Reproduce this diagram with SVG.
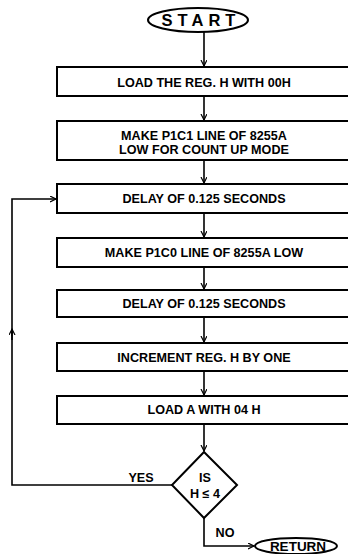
<svg xmlns="http://www.w3.org/2000/svg" width="348" height="554" viewBox="0 0 348 554">
<defs>
<style>
.box{fill:#fff;stroke:#000;stroke-width:2}
.t{font-family:"Liberation Sans",Arial,sans-serif;font-weight:bold;font-size:12.6px;fill:#000;text-anchor:middle}
.c{fill:none;stroke:#000;stroke-width:1.6}
</style>
<marker id="ah" markerWidth="8" markerHeight="8" refX="6" refY="3" orient="auto" markerUnits="userSpaceOnUse">
<path d="M0,0 L6,3 L0,6" fill="none" stroke="#000" stroke-width="1.2"/>
</marker>
</defs>
<g id="connectors">
<line class="c" x1="204" y1="32" x2="204" y2="66" marker-end="url(#ah)"/>
<line class="c" x1="204" y1="96" x2="204" y2="120" marker-end="url(#ah)"/>
<line class="c" x1="204" y1="160" x2="204" y2="183" marker-end="url(#ah)"/>
<line class="c" x1="204" y1="213" x2="204" y2="237" marker-end="url(#ah)"/>
<line class="c" x1="204" y1="267" x2="204" y2="289" marker-end="url(#ah)"/>
<line class="c" x1="204" y1="317" x2="204" y2="342" marker-end="url(#ah)"/>
<line class="c" x1="204" y1="371" x2="204" y2="395" marker-end="url(#ah)"/>
<line class="c" x1="204" y1="424" x2="204" y2="451" marker-end="url(#ah)"/>
<polyline class="c" points="172,485 12,485 12,332"/>
<polyline class="c" points="12,336 12,199 56,199" marker-end="url(#ah)"/>
<line class="c" x1="12" y1="340" x2="12" y2="329" marker-end="url(#ah)"/>
<polyline class="c" points="204,518 204,546 254,546" marker-end="url(#ah)"/>
<text class="t" x="141" y="482">YES</text>
<text class="t" x="225" y="537">NO</text>
</g>
<g id="start">
<ellipse cx="198" cy="20" rx="50" ry="12" fill="#fff" stroke="#000" stroke-width="2"/>
<text class="t" x="201" y="26" style="font-size:16.5px;letter-spacing:5px">START</text>
</g>
<g id="n1">
<rect class="box" x="57" y="67" width="300" height="29"/>
<text class="t" x="204" y="87">LOAD THE REG. H WITH 00H</text>
</g>
<g id="n2">
<rect class="box" x="57" y="121" width="300" height="39"/>
<text class="t" x="204" y="140">MAKE P1C1 LINE OF 8255A</text>
<text class="t" x="204" y="154">LOW FOR COUNT UP MODE</text>
</g>
<g id="n3">
<rect class="box" x="57" y="184" width="300" height="29"/>
<text class="t" x="204" y="203">DELAY OF 0.125 SECONDS</text>
</g>
<g id="n4">
<rect class="box" x="57" y="238" width="300" height="29"/>
<text class="t" x="204" y="257">MAKE P1C0 LINE OF 8255A LOW</text>
</g>
<g id="n5">
<rect class="box" x="57" y="290" width="300" height="27"/>
<text class="t" x="204" y="308">DELAY OF 0.125 SECONDS</text>
</g>
<g id="n6">
<rect class="box" x="57" y="343" width="300" height="28"/>
<text class="t" x="204" y="362">INCREMENT REG. H BY ONE</text>
</g>
<g id="n7">
<rect class="box" x="57" y="396" width="300" height="28"/>
<text class="t" x="204" y="414">LOAD A WITH 04 H</text>
</g>
<g id="decision">
<polygon points="204,452 237,485 204,518 172,485" fill="#fff" stroke="#000" stroke-width="2"/>
<text class="t" x="205" y="482">IS</text>
<text class="t" x="205" y="498">H ≤ 4</text>
</g>
<g id="return">
<ellipse cx="296" cy="546" rx="41" ry="8" fill="#fff" stroke="#000" stroke-width="2"/>
<text class="t" x="298" y="551" style="font-size:13.5px">RETURN</text>
</g>
</svg>
